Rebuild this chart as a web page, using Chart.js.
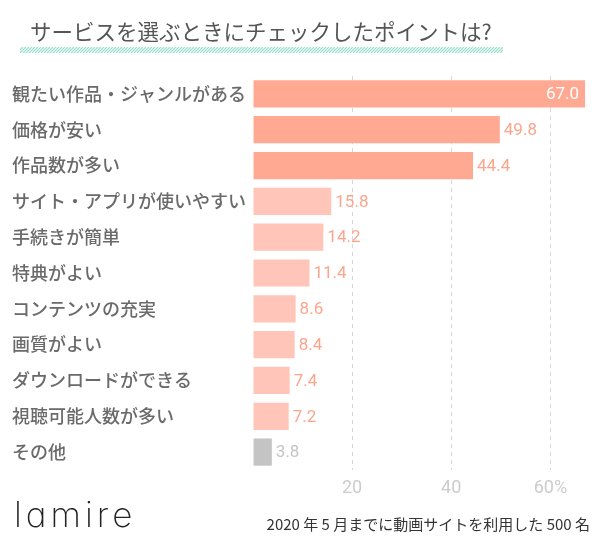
<!DOCTYPE html>
<html>
<head>
<meta charset="utf-8">
<script src="https://cdn.jsdelivr.net/npm/chart.js@4/dist/chart.umd.min.js"></script>
<style>
    html, body { margin: 0; padding: 0; background: #fff; }
    #wrap { width: 600px; height: 541px; position: relative; }
    #logo {
        position: absolute; left: 14px; top: 494px;
        font-family: Inter, Lato, sans-serif; font-weight: 200; font-size: 35px;
        font-feature-settings: "cv11" 1; letter-spacing: 4px; color: #222; line-height: 40px;
    }
</style>
</head>
<body>
<div id="wrap">
    <canvas id="chart" width="600" height="541"></canvas>
    <div id="logo">lamire</div>
</div>
<script>
    'use strict';

    var categories = ['観たい作品・ジャンルがある', '価格が安い', '作品数が多い', 'サイト・アプリが使いやすい',
        '手続きが簡単', '特典がよい', 'コンテンツの充実', '画質がよい', 'ダウンロードができる',
        '視聴可能人数が多い', 'その他'];
    var values = [67.0, 49.8, 44.4, 15.8, 14.2, 11.4, 8.6, 8.4, 7.4, 7.2, 3.8];
    var tickLabels = {20: '20', 40: '40', 60: '60%'};

    var titleText = 'サービスを選ぶときにチェックしたポイントは?';
    var noteText = '2020 年 5 月までに動画サイトを利用した 500 名';

    var jp = '"Noto Sans CJK JP", "Noto Sans", sans-serif';

    var barColor = function (i) {
        if (i < 3) return '#ffa993';
        if (i === categories.length - 1) return '#c4c4c4';
        return '#ffc5b8';
    };
    var labelColor = function (i) {
        if (i === categories.length - 1) return '#c4c4c4';
        return '#fca58d';
    };

    // title, stripe, note and value labels
    var decorations = {
        id: 'decorations',
        afterDraw: function (chart) {
            var ctx = chart.ctx;
            ctx.save();

            ctx.fillStyle = '#555';
            ctx.font = '21.5px ' + jp;
            ctx.textAlign = 'left';
            ctx.textBaseline = 'middle';
            ctx.fillText(titleText, 30, 32);

            // hatched underline
            ctx.beginPath();
            ctx.rect(20, 47, 483, 6);
            ctx.clip();
            ctx.strokeStyle = '#9fe0d1';
            ctx.lineWidth = 1.3;
            for (var x = 14; x < 510; x += 3) {
                ctx.beginPath();
                ctx.moveTo(x, 53);
                ctx.lineTo(x + 6, 47);
                ctx.stroke();
            }
            ctx.restore();

            ctx.save();
            ctx.fillStyle = '#333';
            ctx.font = '15px ' + jp;
            ctx.textAlign = 'right';
            ctx.textBaseline = 'middle';
            ctx.fillText(noteText, 590, 524);
            ctx.restore();
        },
        afterDatasetsDraw: function (chart) {
            var ctx = chart.ctx;
            var meta = chart.getDatasetMeta(0);
            ctx.save();
            ctx.font = '17px Roboto, "Noto Sans", sans-serif';
            ctx.textBaseline = 'middle';
            meta.data.forEach(function (bar, i) {
                var txt = values[i].toFixed(1);
                if (i === 0) {
                    ctx.fillStyle = '#fff';
                    ctx.textAlign = 'right';
                    ctx.fillText(txt, bar.x - 6, bar.y + 1);
                } else {
                    ctx.fillStyle = labelColor(i);
                    ctx.textAlign = 'left';
                    ctx.fillText(txt, bar.x + 4, bar.y + 1);
                }
            });
            ctx.restore();
        }
    };

    new Chart(document.getElementById('chart').getContext('2d'), {
        type: 'bar',
        data: {
            labels: categories,
            datasets: [{
                data: values,
                backgroundColor: categories.map(function (c, i) { return barColor(i); }),
                borderWidth: 0,
                barPercentage: 0.76,
                categoryPercentage: 1.0
            }]
        },
        options: {
            indexAxis: 'y',
            responsive: false,
            animation: false,
            layout: {padding: {left: 12, top: 76, right: 10, bottom: 0}},
            plugins: {legend: {display: false}, tooltip: {enabled: false}},
            scales: {
                x: {
                    min: 0,
                    max: 68,
                    border: {display: false, dash: [4, 4]},
                    grid: {
                        drawTicks: false,
                        color: function (c) {
                            return tickLabels[c.tick && c.tick.value] ? '#d8d8d8' : 'rgba(0,0,0,0)';
                        },
                        lineWidth: 1
                    },
                    ticks: {
                        stepSize: 20,
                        padding: 8,
                        color: '#cccccc',
                        font: {family: 'Roboto, "Noto Sans", sans-serif', size: 18},
                        callback: function (v) { return tickLabels[v] || ''; }
                    },
                    afterFit: function (scale) { scale.height = 71; }
                },
                y: {
                    border: {display: false},
                    grid: {display: false},
                    ticks: {
                        crossAlign: 'far',
                        color: '#6a6a6a',
                        font: {family: jp, size: 18, weight: '500'}
                    },
                    afterFit: function (scale) { scale.width = 241; }
                }
            }
        },
        plugins: [decorations]
    });
</script>
</body>
</html>
